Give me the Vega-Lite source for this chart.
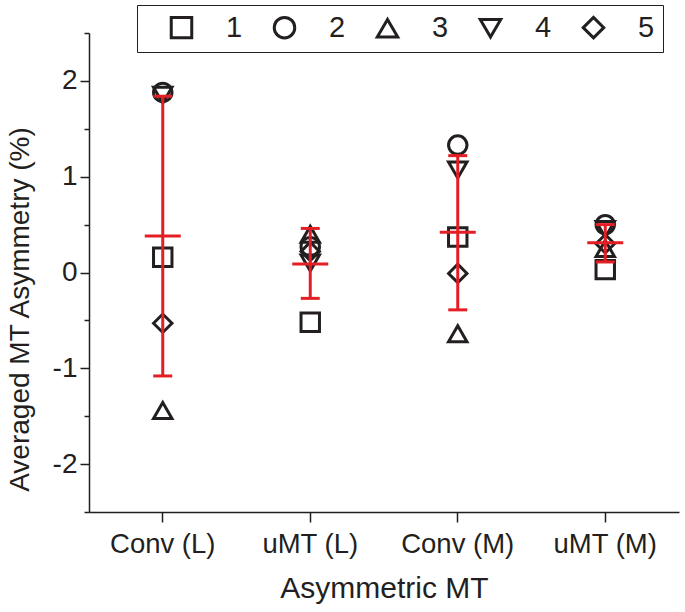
{
  "$schema": "https://vega.github.io/schema/vega-lite/v6.json",
  "width": 590,
  "height": 479,
  "autosize": {"type": "none"},
  "padding": {"left": 89, "top": 33, "right": 6, "bottom": 100},
  "background": "white",
  "config": {
    "view": {"stroke": null},
    "font": "Liberation Sans",
    "axis": {
      "grid": false,
      "domainColor": "#231f20",
      "tickColor": "#231f20",
      "labelColor": "#231f20",
      "titleColor": "#231f20",
      "domainWidth": 1.5,
      "tickWidth": 1.5,
      "labelFont": "Liberation Sans",
      "titleFont": "Liberation Sans",
      "titleFontWeight": "normal"
    },
    "legend": {"labelFont": "Liberation Sans"}
  },
  "datasets": {
    "points": [
      {"group": "Conv (L)", "series": "1", "value": 0.16},
      {"group": "Conv (L)", "series": "2", "value": 1.88},
      {"group": "Conv (L)", "series": "3", "value": -1.44},
      {"group": "Conv (L)", "series": "4", "value": 1.85},
      {"group": "Conv (L)", "series": "5", "value": -0.53},
      {"group": "uMT (L)", "series": "1", "value": -0.52},
      {"group": "uMT (L)", "series": "2", "value": 0.27},
      {"group": "uMT (L)", "series": "3", "value": 0.40},
      {"group": "uMT (L)", "series": "4", "value": 0.10},
      {"group": "uMT (L)", "series": "5", "value": 0.22},
      {"group": "Conv (M)", "series": "1", "value": 0.37},
      {"group": "Conv (M)", "series": "2", "value": 1.33},
      {"group": "Conv (M)", "series": "3", "value": -0.64},
      {"group": "Conv (M)", "series": "4", "value": 1.07},
      {"group": "Conv (M)", "series": "5", "value": -0.01},
      {"group": "uMT (M)", "series": "1", "value": 0.03},
      {"group": "uMT (M)", "series": "2", "value": 0.50},
      {"group": "uMT (M)", "series": "3", "value": 0.25},
      {"group": "uMT (M)", "series": "4", "value": 0.45},
      {"group": "uMT (M)", "series": "5", "value": 0.30}
    ],
    "stats": [
      {"group": "Conv (L)", "mean": 0.38, "low": -1.08, "high": 1.84},
      {"group": "uMT (L)", "mean": 0.09, "low": -0.27, "high": 0.46},
      {"group": "Conv (M)", "mean": 0.42, "low": -0.39, "high": 1.22},
      {"group": "uMT (M)", "mean": 0.31, "low": 0.11, "high": 0.50}
    ]
  },
  "encoding": {
    "x": {
      "field": "group",
      "type": "nominal",
      "sort": ["Conv (L)", "uMT (L)", "Conv (M)", "uMT (M)"],
      "axis": {
        "labelAngle": 0,
        "labelFontSize": 27.5,
        "labelBaseline": "alphabetic",
        "tickSize": 10,
        "labelPadding": 30,
        "title": "Asymmetric MT",
        "titleFontSize": 30,
        "titleBaseline": "alphabetic",
        "titleY": 85
      }
    }
  },
  "layer": [
    {
      "data": {"name": "points"},
      "mark": {"type": "point", "filled": false, "stroke": "#231f20", "strokeWidth": 3, "size": 340, "opacity": 1},
      "encoding": {
        "y": {
          "field": "value",
          "type": "quantitative",
          "scale": {"domain": [-2.5, 2.5], "nice": false, "zero": false},
          "axis": {
            "values": [-2.5, -2, -1.5, -1, -0.5, 0, 0.5, 1, 1.5, 2, 2.5],
            "labelExpr": "datum.value % 1 === 0 ? '' + datum.value : ''",
            "tickSize": {"condition": {"test": "datum.value % 1 === 0", "value": 9}, "value": 5},
            "labelFontSize": 28,
            "labelPadding": 3,
            "title": "Averaged MT Asymmetry (%)",
            "titleFontSize": 28,
            "titleAngle": -90,
            "titleAlign": "center",
            "titleBaseline": "middle",
            "titleX": -69,
            "titleY": 276
          }
        },
        "shape": {
          "field": "series",
          "type": "nominal",
          "scale": {"domain": ["1", "2", "3", "4", "5"], "range": ["square", "circle", "triangle-up", "triangle-down", "diamond"]},
          "legend": {
            "orient": "none",
            "legendX": 48,
            "legendY": -28,
            "direction": "horizontal",
            "title": null,
            "strokeColor": "#231f20",
            "padding": 8,
            "symbolSize": 420,
            "symbolStrokeWidth": 3,
            "symbolStrokeColor": "#231f20",
            "symbolFillColor": "white",
            "labelFontSize": 29,
            "labelColor": "#231f20",
            "labelOffset": 30,
            "columnPadding": 5,
            "symbolOffset": 22
          }
        }
      }
    },
    {
      "data": {"name": "stats"},
      "mark": {"type": "rule", "color": "#e31e24", "strokeWidth": 3},
      "encoding": {
        "y": {"field": "low", "type": "quantitative"},
        "y2": {"field": "high"}
      }
    },
    {
      "data": {"name": "stats"},
      "mark": {"type": "tick", "color": "#e31e24", "size": 19, "thickness": 3, "opacity": 1},
      "encoding": {"y": {"field": "low", "type": "quantitative"}}
    },
    {
      "data": {"name": "stats"},
      "mark": {"type": "tick", "color": "#e31e24", "size": 19, "thickness": 3, "opacity": 1},
      "encoding": {"y": {"field": "high", "type": "quantitative"}}
    },
    {
      "data": {"name": "stats"},
      "mark": {"type": "tick", "color": "#e31e24", "size": 36, "thickness": 3, "opacity": 1},
      "encoding": {"y": {"field": "mean", "type": "quantitative"}}
    }
  ]
}
